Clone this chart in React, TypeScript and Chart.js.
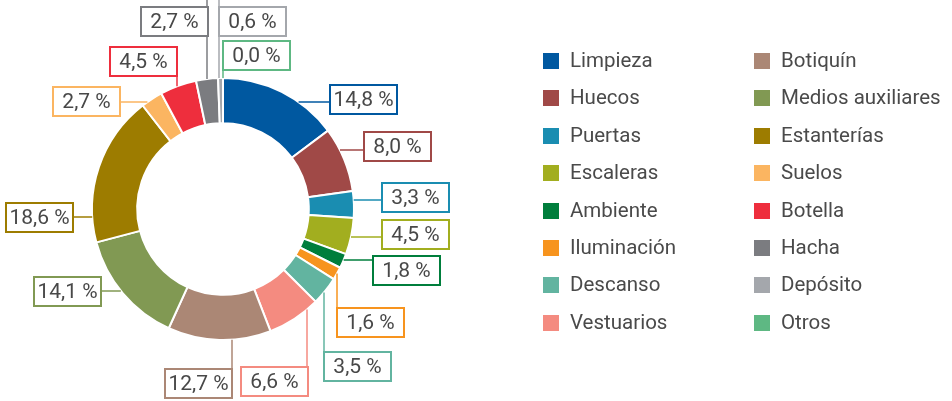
import React, { useEffect, useRef } from "react";
import { Chart, registerables } from "chart.js";

Chart.register(...registerables);

const categories = [
  "Limpieza", "Huecos", "Puertas", "Escaleras", "Ambiente", "Iluminación",
  "Descanso", "Vestuarios", "Botiquín", "Medios auxiliares", "Estanterías",
  "Suelos", "Botella", "Hacha", "Depósito", "Otros",
];
const values = [14.8, 8.0, 3.3, 4.5, 1.8, 1.6, 3.5, 6.6, 12.7, 14.1, 18.6, 2.7, 4.5, 2.7, 0.6, 0.0];
const colors = [
  "#0058a0", "#a04947", "#1a8db1", "#a2ae1f", "#007e3c", "#f7941e",
  "#62b4a0", "#f48b80", "#ab8775", "#819953", "#9d7c00",
  "#fbb561", "#ee2e3d", "#7b7c80", "#a4a7ac", "#5eb883",
];
const valueLabels = values.map((v) => v.toFixed(1).replace(".", ",") + " %");

// label box layout relative to doughnut centre: [boxX, boxY, dir, lineAt, lineEnd]
const labelLayout: [number, number, "h" | "v", number, number][] = [
  [107, -124, "h", -107, 107],
  [141, -77, "h", -59, 141],
  [159, -26, "h", -9, 159],
  [159, 11, "h", 28, 159],
  [150, 47, "h", 51, 150],
  [114, 99, "v", 114, 99],
  [101, 143, "v", 101, 143],
  [18, 158, "v", 84, 158],
  [-58, 160, "v", 9, 160],
  [-189, 68, "h", 82, -122],
  [-217, -6, "h", 8, -150],
  [-170, -122, "h", -107, -103],
  [-113, -162, "v", -46, -133],
  [-82, -202, "v", -16, -209],
  [-4, -202, "v", -4, -209],
  [0, -168, "v", 0, -139],
];
const BOX_W = 67;
const BOX_H = 29;
const FONT = "Roboto, 'DejaVu Sans', sans-serif";

const labelPlugin = {
  id: "boxLabels",
  afterDatasetsDraw(chart: any) {
    const meta = chart.getDatasetMeta(0);
    const arc = meta.data[0];
    if (!arc) return;
    const { x: cx, y: cy, outerRadius } = arc.getProps(["x", "y", "outerRadius"], true);
    const R = outerRadius;
    const ctx = chart.ctx;
    ctx.save();
    labelLayout.forEach((l, i) => {
      const [bx, by, dir, at, end] = l;
      const col = colors[i];
      ctx.strokeStyle = col;
      ctx.lineWidth = 1.5;
      ctx.beginPath();
      const d = Math.sqrt(Math.max(R * R - at * at, 0));
      if (dir === "h") {
        const rx = end > 0 ? d : -d;
        ctx.moveTo(cx + rx, cy + at);
        ctx.lineTo(cx + end, cy + at);
      } else {
        const ry = end > 0 ? d : -d;
        ctx.moveTo(cx + at, cy + ry);
        ctx.lineTo(cx + at, cy + end);
      }
      ctx.stroke();
      const x0 = Math.round(cx + bx);
      const y0 = Math.round(cy + by);
      ctx.fillStyle = "#ffffff";
      ctx.fillRect(x0, y0, BOX_W, BOX_H);
      ctx.lineWidth = 2;
      ctx.strokeStyle = col;
      ctx.strokeRect(x0, y0, BOX_W, BOX_H);
      ctx.fillStyle = "#484848";
      ctx.font = `21px ${FONT}`;
      ctx.textAlign = "center";
      ctx.textBaseline = "middle";
      ctx.fillText(valueLabels[i], x0 + BOX_W / 2, y0 + BOX_H / 2 + 1);
    });
    ctx.restore();
  },
};

const LEGEND_X = [543, 754];
const LEGEND_Y0 = 53;
const LEGEND_STEP = 37.4;
const LEGEND_SQ = 16;

const legendPlugin = {
  id: "twoColLegend",
  afterDraw(chart: any) {
    const ctx = chart.ctx;
    const labels: string[] = chart.data.labels;
    const bg: string[] = chart.data.datasets[0].backgroundColor;
    ctx.save();
    ctx.font = `20.5px ${FONT}`;
    ctx.textAlign = "left";
    ctx.textBaseline = "middle";
    labels.forEach((lab, i) => {
      const col = Math.floor(i / 8);
      const row = i % 8;
      const x = LEGEND_X[col];
      const y = Math.round(LEGEND_Y0 + row * LEGEND_STEP);
      ctx.fillStyle = bg[i];
      ctx.fillRect(x, y, LEGEND_SQ, LEGEND_SQ);
      ctx.fillStyle = "#4a4a4a";
      ctx.fillText(lab, x + 27, y + LEGEND_SQ / 2 + 1);
    });
    ctx.restore();
  },
};

export default function App() {
  const ref = useRef<HTMLCanvasElement | null>(null);
  useEffect(() => {
    if (!ref.current) return;
    const chart = new Chart(ref.current, {
      type: "doughnut",
      data: {
        labels: categories,
        datasets: [
          {
            data: values,
            backgroundColor: colors,
            borderColor: "#ffffff",
            borderWidth: 2,
          },
        ],
      },
      options: {
        responsive: true,
        maintainAspectRatio: false,
        animation: false,
        cutout: "65.5%",
        layout: { padding: { left: 91, top: 77, right: 597, bottom: 60 } },
        plugins: {
          legend: { display: false },
          tooltip: { enabled: false },
        },
      },
      plugins: [labelPlugin, legendPlugin],
    });
    return () => chart.destroy();
  }, []);
  return (
    <div style={{ position: "fixed", left: 0, top: 0, width: 952, height: 401, background: "#fff" }}>
      <canvas ref={ref} />
    </div>
  );
}
